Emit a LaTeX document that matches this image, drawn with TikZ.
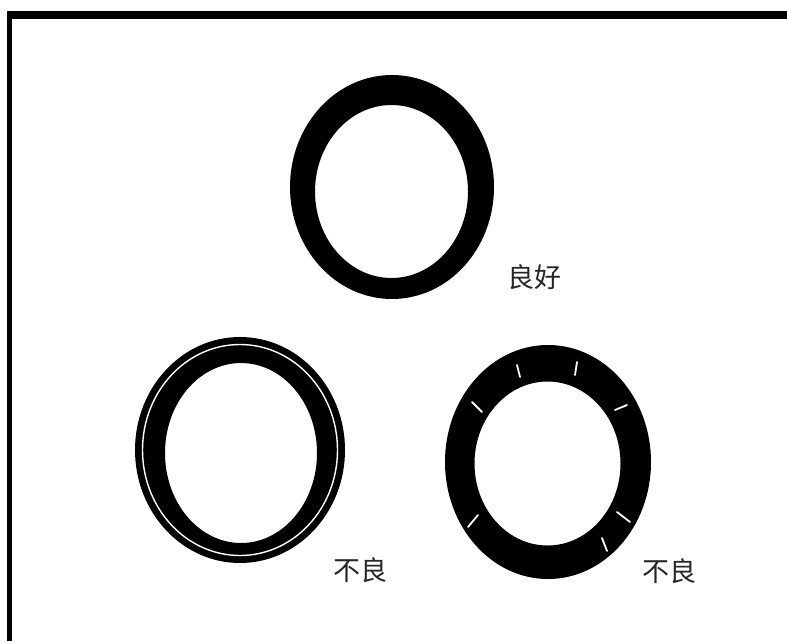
\documentclass[tikz,border=0pt]{standalone}
\usepackage{fontspec}
\newfontfamily\cjk{Noto Sans CJK SC}
\begin{document}
\begin{tikzpicture}[x=1pt,y=-1pt,
  ring/.style={fill=black,even odd rule},
  crack/.style={draw=white,line width=1.8pt,line cap=round},
  lbl/.style={font=\cjk\fontsize{27pt}{30pt}\selectfont,inner sep=0pt,text=black!85}]
\useasboundingbox (0,0) rectangle (787,641);
\fill[white] (0,0) rectangle (787,641);
% frame (only top and left edges visible)
\fill[black] (7,11) rectangle (787,19);
\fill[black] (7,11) rectangle (12,641);
% top ring (good)
\fill[ring] (392,187) ellipse [x radius=102pt, y radius=112pt]
            (391.5,191.5) ellipse [x radius=76.5pt, y radius=86.5pt];
\node[lbl] (good) at (534,277) {良好};
% left ring (bad, layered)
\fill[ring] (240,450) ellipse [x radius=105pt, y radius=113pt]
            (241,453) ellipse [x radius=76pt, y radius=90pt];
\draw[white,line width=1.4pt] (240,450) ellipse [x radius=97.5pt, y radius=105.5pt];
\node[lbl] (badl) at (360,570) {不良};
% right ring (bad, cracked)
\fill[ring] (548,462) ellipse [x radius=103pt, y radius=117pt]
            (547.5,463.5) ellipse [x radius=73pt, y radius=82pt];
\draw[crack] (517,365) -- (520,377);
\draw[crack] (577,362) -- (575,375);
\draw[crack] (472,402) -- (482,412);
\draw[crack] (615,410) -- (627,405);
\draw[crack] (468,527) -- (478,515);
\draw[crack] (617,512) -- (630,522);
\draw[crack] (602,538) -- (607,551);
\node[lbl] (badr) at (669,571) {不良};
\end{tikzpicture}
\end{document}
